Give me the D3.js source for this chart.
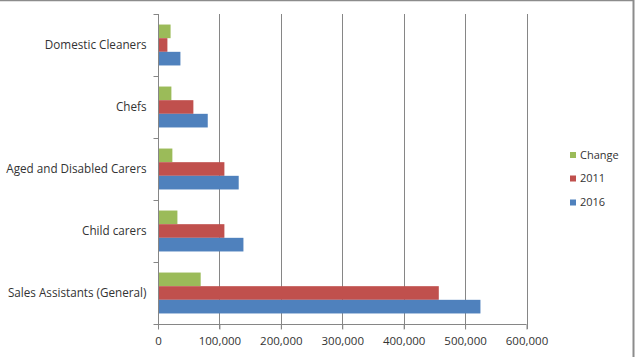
<!DOCTYPE html>
<html><head><meta charset="utf-8">
<script src="https://cdn.jsdelivr.net/npm/d3@7"></script>
<style>body{margin:0;background:#fff}svg{display:block}text{font-family:"Open Sans",sans-serif;fill:#333}</style>
</head><body>
<svg id="c" width="635" height="357"></svg>
<script>
const categories = ["Domestic Cleaners","Chefs","Aged and Disabled Carers","Child carers","Sales Assistants (General)"];
const seriesNames = ["Change","2011","2016"];
const change = [20500, 21800, 23400, 31600, 69500];
const y2011 = [15300, 57600, 108100, 108100, 457200];
const y2016 = [36500, 81000, 131400, 139100, 525000];
const xTicks = [0,100000,200000,300000,400000,500000,600000];
const colors = ["#9BBB59","#C0504D","#4F81BD"];
const seriesVals = [change, y2011, y2016];

const svg = d3.select("#c");
// frame
svg.append("line").attr("x1",0).attr("x2",634).attr("y1",0.5).attr("y2",0.5).attr("stroke","#8c8c8c").attr("stroke-width",1.5);
svg.append("line").attr("x1",633.5).attr("x2",633.5).attr("y1",0).attr("y2",357).attr("stroke","#8c8c8c").attr("stroke-width",2);

const pL = 158, pR = 526.5, pT = 14, pB = 324;
const x = d3.scaleLinear().domain([0,600000]).range([pL,pR]);
const y = d3.scaleBand().domain(categories).range([pT,pB]).paddingInner(0.34).paddingOuter(0.17);
const inner = d3.scaleBand().domain(seriesNames).range([0,y.bandwidth()]);

// gridlines
const g = svg.append("g");
g.selectAll("line.grid").data(xTicks.slice(1)).join("line")
  .attr("x1",d=>Math.round(x(d))+0.5).attr("x2",d=>Math.round(x(d))+0.5)
  .attr("y1",pT).attr("y2",pB+5).attr("stroke","#868686").attr("stroke-width",1);

// bars
seriesNames.forEach((s,i)=>{
  svg.append("g").selectAll("rect").data(categories).join("rect")
    .attr("x",x(0)).attr("y",(c)=>y(c)+inner(s))
    .attr("width",(c,j)=>x(seriesVals[i][j])-x(0))
    .attr("height",inner.bandwidth())
    .attr("fill",colors[i]);
});

// x axis
const xa = d3.axisBottom(x).tickValues(xTicks).tickSize(5).tickFormat(d3.format(","));
const xg = svg.append("g").attr("transform",`translate(0,${pB+0.5})`).call(xa);
xg.select(".domain").attr("stroke","#868686").attr("d",`M${pL},0H${pR}`);
xg.selectAll(".tick line").attr("stroke","#868686");
xg.selectAll(".tick text").attr("dy","1.05em").style("font-size","11.5px").attr("fill","#333").attr("y",8);

// y axis
const yEdges = d3.range(categories.length+1).map(i=>pT + i*(pB-pT)/categories.length);
const ya = d3.axisLeft(y).tickSize(0).tickPadding(12);
const yg = svg.append("g").attr("transform",`translate(${pL+0.5},0)`).call(ya);
yg.select(".domain").attr("stroke","#868686").attr("d",`M0,${pT}V${pB}`);
yg.selectAll(".tick text").style("font-size","11.7px").attr("fill","#333");
yg.selectAll("line.edge").data(yEdges).join("line").attr("class","edge")
  .attr("x1",-5).attr("x2",0).attr("y1",d=>Math.round(d)+0.5).attr("y2",d=>Math.round(d)+0.5).attr("stroke","#868686");

// legend
const lg = svg.append("g");
const legY = [155,178.5,202.5];
seriesNames.forEach((s,i)=>{
  lg.append("rect").attr("x",570).attr("y",legY[i]-3).attr("width",6).attr("height",6).attr("fill",colors[i]);
  lg.append("text").attr("x",580).attr("y",legY[i]).attr("dy","0.35em").style("font-size","11px").text(s);
});
</script>
</body></html>
